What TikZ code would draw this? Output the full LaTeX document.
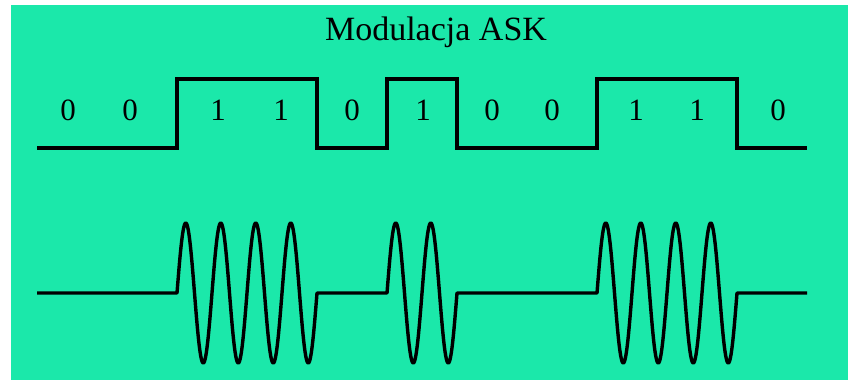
\documentclass[tikz,border=0pt]{standalone}
\usepackage{fontspec}
\setmainfont{Liberation Serif}
\definecolor{askgreen}{RGB}{27,232,170}
\begin{document}
\begin{tikzpicture}[x=1pt,y=-1pt,
  sig/.style={line width=3.8pt,black},
  wave/.style={line width=3.4pt,black,line join=round},
  bitlabel/.style={font=\fontsize{31}{31}\selectfont,anchor=base,inner sep=0pt},
  titlelabel/.style={font=\fontsize{34}{34}\selectfont,anchor=base,inner sep=0pt}]
\useasboundingbox (0,0) rectangle (848,380);
\fill[white] (0,0) rectangle (848,380);
\fill[askgreen] (11,5) rectangle (848,380);
\node[titlelabel] (title) at (436,40) {Modulacja ASK};
% bit labels
\foreach \xx/\b [count=\i] in {68/0,130/0,218/1,281/1,352/0,423/1,492/0,552/0,636/1,697/1,778/0}{
  \node[bitlabel] (bit\i) at (\xx,120) {\b};
}
% square wave
\draw[sig] (37,148) -- (177,148) -- (177,79) -- (317,79) -- (317,148)
  -- (387,148) -- (387,79) -- (457,79) -- (457,148) -- (597,148)
  -- (597,79) -- (737,79) -- (737,148) -- (807,148);
% ASK modulated wave
\draw[wave] (37,293) -- (177,293)
  -- plot[domain=0:140,samples=241] ({177+\x},{293-70*sin(\x/35*360)})
  -- (387,293)
  -- plot[domain=0:70,samples=121] ({387+\x},{293-70*sin(\x/35*360)})
  -- (597,293)
  -- plot[domain=0:140,samples=241] ({597+\x},{293-70*sin(\x/35*360)})
  -- (807,293);
\end{tikzpicture}
\end{document}
